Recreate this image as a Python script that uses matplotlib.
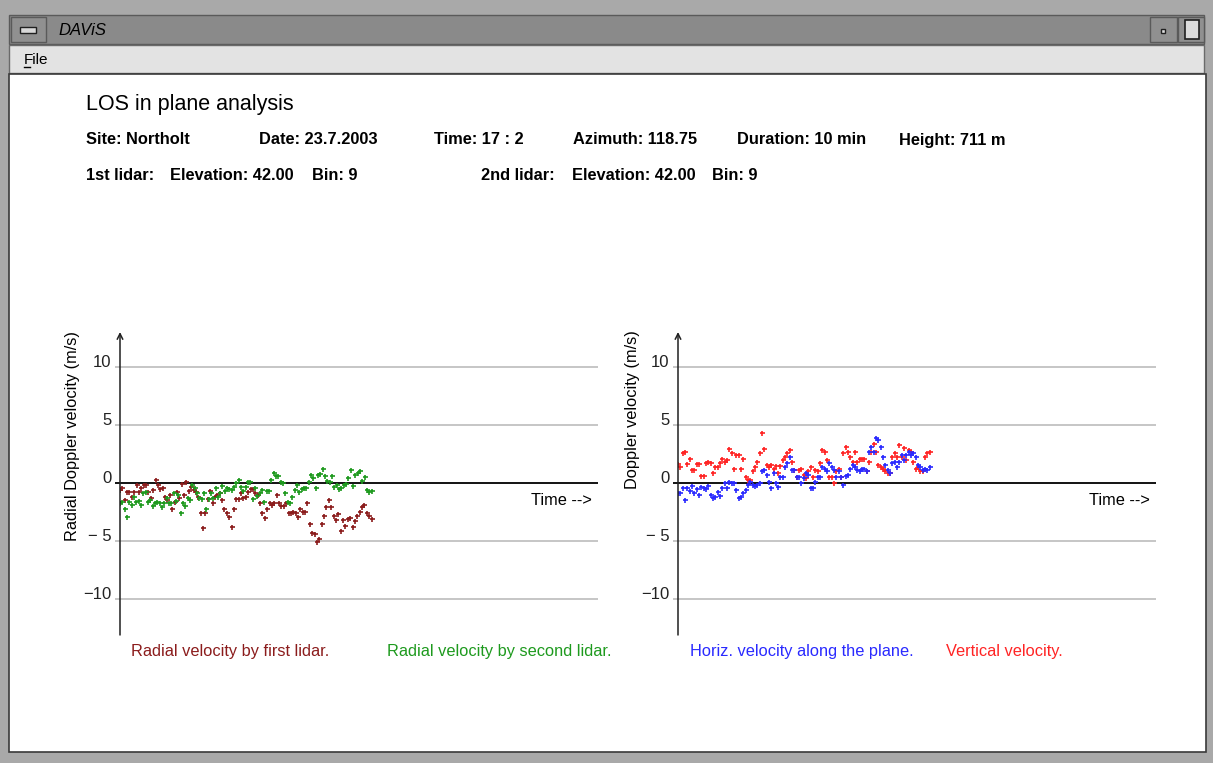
import matplotlib.pyplot as plt
import numpy as np
from matplotlib.patches import Rectangle

plt.rcParams['font.family'] = ['Liberation Sans', 'DejaVu Sans']

W, H = 1213, 763

# ---- data (m/s), one 10 min record ----
duration = 10      # min
t_max = 19         # time axis length shown

first_lidar = [-0.6, -0.45, -1.45, -0.8, -0.8, -1.2, -0.75, -0.2, -0.75, -0.45,
               -0.2, -0.2, -0.8, -1.25, -0.6, 0.25, -0.2, -0.5, -0.45, -1.2,
               -1.45, -1.0, -2.2, -1.6, -0.75, -1.3, -0.1, -1.0, 0.05, -0.7,
               -0.3, -0.6, -0.8, -1.2, -2.6, -3.9, -2.6, -1.4, -0.7, -1.7,
               -1.2, -1.0, -0.9, -1.5, -2.2, -2.6, -2.9, -3.8, -2.2, -1.4,
               -1.4, -0.9, -1.3, -1.2, -0.8, -0.5, -0.5, -0.9, -1.0, -1.7,
               -2.6, -3.0, -2.2, -1.7, -1.9, -1.7, -1.0, -1.7, -2.0, -2.0,
               -1.7, -2.6, -2.6, -2.5, -2.6, -2.9, -2.2, -2.5, -2.5, -1.7,
               -3.5, -4.3, -4.4, -5.1, -4.8, -3.5, -2.8, -2.1, -1.5, -2.1,
               -2.8, -3.2, -2.7, -4.1, -3.2, -3.7, -3.1, -3.0, -3.8, -3.3,
               -2.8, -2.5, -2.1, -1.9, -2.6, -2.8, -3.1]

second_lidar = [-1.75, -1.6, -2.2, -2.9, -1.6, -1.9, -1.2, -1.6, -1.55, -1.9,
                -0.9, -0.75, -1.6, -1.45, -2.0, -1.7, -1.6, -1.7, -2.1, -1.7,
                -1.3, -1.75, -1.75, -0.9, -1.55, -1.0, -2.6, -1.7, -2.0, -1.3,
                -1.5, -0.15, -0.45, -0.9, -1.3, -1.4, -0.9, -2.2, -1.4, -0.9,
                -1.3, -0.45, -1.2, -0.9, -0.25, -0.7, -0.45, -0.5, -0.6, -0.3,
                0.0, 0.3, -0.3, -0.7, -0.3, 0.1, 0.1, -1.4, -0.45, -1.1,
                -0.9, -0.6, -1.6, -0.65, -0.65, 0.3, 0.85, 0.6, 0.6, 0.05,
                0.0, -0.9, -1.6, -1.7, -1.2, -0.6, -0.15, -0.8, -0.5, -0.45,
                -0.4, 0.05, 0.65, 0.4, -0.4, 0.65, 0.8, 1.2, 0.6, 0.2,
                0.1, 0.6, -0.3, -0.15, -0.5, -0.45, -0.15, -0.1, 0.4, 1.1,
                -0.25, 0.65, 0.9, 1.0, 0.2, 0.5, -0.6, -0.8, -0.7]

horiz_vel = [-0.85, -0.85, -0.45, -1.45, -0.45, -0.65, -0.25, -0.9, -0.55, -1.05,
             -0.3, -0.45, -0.55, -0.25, -1.05, -1.3, -1.2, -0.75, -1.1, -0.45,
             0.0, -0.45, 0.1, 0.0, 0.0, -0.6, -1.3, -1.2, -0.9, -0.6,
             -0.2, 0.1, -0.2, -0.25, -0.2, 0.0, 1.0, 1.1, 0.7, 0.1,
             -0.4, 0.85, 0.0, -0.3, 0.55, 0.55, 1.4, 1.7, 2.25, 1.1,
             1.1, 0.55, 0.55, 0.0, 0.4, 0.85, 0.7, -0.45, -0.45, 0.1,
             0.55, 0.55, 1.4, 1.25, 1.0, 1.7, 1.4, 1.1, 0.55, 1.0,
             0.55, -0.2, 0.6, 0.7, 1.25, 1.55, 1.4, 1.1, 1.0, 1.2,
             1.25, 1.05, 2.7, 3.1, 2.7, 3.85, 3.7, 3.1, 2.25, 1.55,
             1.1, 0.9, 1.7, 1.85, 1.4, 1.85, 2.4, 2.0, 2.4, 2.7,
             2.4, 2.55, 2.25, 1.55, 1.4, 1.1, 1.25, 1.1, 1.4]

vert_vel = [1.6, 1.4, 2.55, 2.7, 1.6, 2.1, 1.1, 1.1, 1.6, 1.6,
            0.6, 0.6, 1.7, 1.85, 1.7, 0.85, 1.4, 1.4, 1.7, 2.1,
            1.85, 2.0, 2.9, 2.55, 1.25, 2.4, 2.4, 1.25, 2.1, 0.55,
            0.3, 0.3, 1.0, 1.4, 1.85, 2.55, 4.35, 2.9, 1.55, 1.4,
            1.55, 1.25, 1.45, 0.85, 1.45, 2.0, 2.25, 2.55, 2.85, 1.85,
            1.1, 0.55, 1.1, 1.25, 0.7, 0.4, 1.0, 1.4, 0.55, 1.1,
            1.0, 1.7, 2.85, 2.7, 2.0, 0.55, 0.55, 0.0, 1.0, 1.25,
            0.55, 2.55, 3.1, 2.7, 2.25, 1.85, 2.7, 1.85, 2.1, 2.1,
            2.1, 1.0, 1.85, 2.7, 3.4, 2.7, 1.55, 1.4, 1.25, 1.0,
            0.85, 0.85, 2.25, 2.55, 2.25, 3.25, 2.25, 3.0, 2.0, 2.85,
            2.7, 1.85, 1.25, 1.4, 1.0, 1.0, 2.25, 2.6, 2.7]

tick_vals = [10, 5, 0, -5, -10]
tick_text = ['10', '5', '0', '\u2212 5', '\u221210']

dark_red = '#8b1c1c'
green = '#1e9a1e'
blue = '#2a2aff'
red = '#ff2424'


def px(x, y):
    return x / W, 1 - y / H


fig = plt.figure(figsize=(W / 100, H / 100), dpi=100)
fig.patch.set_facecolor('#a9a9a9')

# ---- window frame drawn in pixel coords ----
bg = fig.add_axes([0, 0, 1, 1])
bg.set_xlim(0, W)
bg.set_ylim(H, 0)
bg.axis('off')

bg.add_patch(Rectangle((0, 0), W, H, fc='#a9a9a9', ec='none'))
bg.add_patch(Rectangle((9, 15), W - 18, 29, fc='#8a8a8a', ec='#5a5a5a', lw=1))
bg.add_patch(Rectangle((11, 17), 35, 25, fc='#909090', ec='#5a5a5a', lw=1))
bg.add_patch(Rectangle((20, 27), 16, 6, fc='#d8d8d8', ec='#202020', lw=1))
bg.text(58, 35, 'DAViS', fontsize=12, style='italic', va='baseline', ha='left')
bg.add_patch(Rectangle((1150, 17), 27, 25, fc='#909090', ec='#5a5a5a', lw=1))
bg.add_patch(Rectangle((1161, 29), 4, 4, fc='#e0e0e0', ec='#202020', lw=1))
bg.add_patch(Rectangle((1178, 17), 26, 25, fc='#909090', ec='#5a5a5a', lw=1))
bg.add_patch(Rectangle((1185, 20), 14, 19, fc='#dcdcdc', ec='#202020', lw=1.2))
bg.add_patch(Rectangle((9, 45), W - 18, 28, fc='#e3e3e3', ec='#6a6a6a', lw=1))
bg.text(24, 64, 'File', fontsize=11, va='baseline', ha='left')
bg.plot([24, 30], [67, 67], color='black', lw=1)
bg.add_patch(Rectangle((9, 74), W - 16, 678, fc='white', ec='#3a3a3a', lw=1.2))

# ---- header text ----
bg.text(86, 110, 'LOS in plane analysis', fontsize=15.5, va='baseline')
row1 = [(86, 'Site: Northolt'), (259, 'Date: 23.7.2003'), (434, 'Time: 17 : 2'),
        (573, 'Azimuth: 118.75'), (737, 'Duration: 10 min'), (899, 'Height: 711 m')]
row2 = [(86, '1st lidar:'), (170, 'Elevation: 42.00'), (312, 'Bin: 9'),
        (481, '2nd lidar:'), (572, 'Elevation: 42.00'), (712, 'Bin: 9')]
for x, s in row1:
    bg.text(x, 144.5, s, fontsize=11.8, fontweight='bold', va='baseline')
for x, s in row2:
    bg.text(x, 179.5, s, fontsize=11.8, fontweight='bold', va='baseline')


def panel(left_px, ylabel, ylabel_xy, series, colors, legend):
    l, b = px(left_px, 635)
    ax = fig.add_axes([l, b, 478 / W, 303 / H])
    ax.set_facecolor('none')
    ax.set_xlim(0, t_max)
    ax.set_ylim(-13.1, 13.02)
    ax.axis('off')
    grid = [v for v in tick_vals if v != 0]
    ax.hlines(grid, -0.2, t_max, colors='#c2c2c2', lw=1.3, clip_on=False)
    ax.hlines(0, -0.2, t_max, colors='black', lw=1.3, clip_on=False)
    for v, s in zip(tick_vals, tick_text):
        ax.text(-0.35, v, s, ha='right', va='baseline', fontsize=12,
                color='#222222', clip_on=False)
    ax.annotate('', xy=(0, 1), xytext=(0, 0), xycoords='axes fraction',
                arrowprops=dict(arrowstyle='->', lw=1.1, color='#202020',
                                shrinkA=0, shrinkB=0, mutation_scale=10))
    for s, c in zip(series, colors):
        t = np.linspace(0, duration, len(s))
        ax.plot(t, s, ls='none', marker='+', ms=3.6, mew=1.2, color=c)
    bg.text(left_px + 472, 505, 'Time -->', fontsize=11.8, ha='right', va='baseline')
    bg.text(ylabel_xy[0], ylabel_xy[1], ylabel, fontsize=11.8, rotation=90,
            ha='center', va='center')
    for x, s, c in legend:
        bg.text(x, 656, s, fontsize=11.8, color=c, va='baseline')
    return ax


panel(120, 'Radial Doppler velocity (m/s)', (73, 436),
      [first_lidar, second_lidar], [dark_red, green],
      [(131, 'Radial velocity by first lidar.', dark_red),
       (387, 'Radial velocity by second lidar.', green)])
panel(678, 'Doppler velocity (m/s)', (632, 410),
      [vert_vel, horiz_vel], [red, blue],
      [(690, 'Horiz. velocity along the plane.', blue),
       (946, 'Vertical velocity.', red)])

fig.savefig('out.png', dpi=100)
